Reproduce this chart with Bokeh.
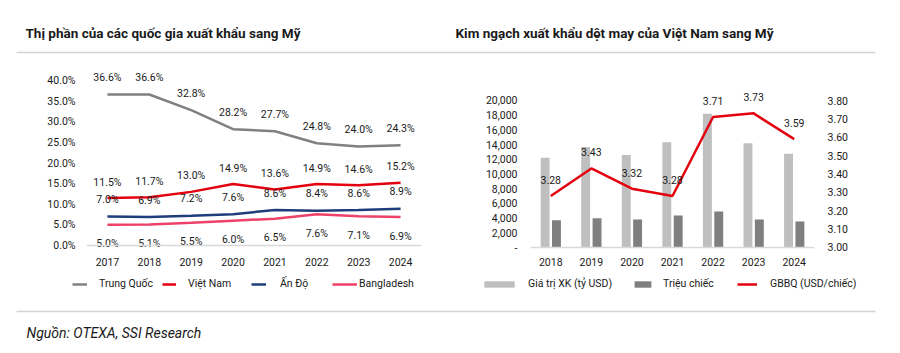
from bokeh.plotting import figure
from bokeh.models import (ColumnDataSource, FactorRange, Range1d, LinearAxis, FixedTicker,
                          PrintfTickFormatter, NumeralTickFormatter, Span, Label,
                          Legend, LegendItem, BoxAnnotation)
from bokeh.layouts import row, column
from bokeh.embed import file_html
from bokeh.resources import INLINE
from bokeh.core.properties import value
from bokeh.transform import dodge

# ---------------- data ----------------
years_share = ["2017", "2018", "2019", "2020", "2021", "2022", "2023", "2024"]
china = [36.6, 36.6, 32.8, 28.2, 27.7, 24.8, 24.0, 24.3]
vietnam = [11.5, 11.7, 13.0, 14.9, 13.6, 14.9, 14.6, 15.2]
india = [7.0, 6.9, 7.2, 7.6, 8.6, 8.4, 8.6, 8.9]
bangladesh = [5.0, 5.1, 5.5, 6.0, 6.5, 7.6, 7.1, 6.9]
share_ticks = [0, 5, 10, 15, 20, 25, 30, 35, 40]

years_vn = ["2018", "2019", "2020", "2021", "2022", "2023", "2024"]
export_value = [12200, 13690, 12600, 14330, 18190, 14190, 12750]
million_pieces = [3720, 3990, 3795, 4369, 4906, 3804, 3551]
avg_price = [3.28, 3.43, 3.32, 3.28, 3.71, 3.73, 3.59]
value_ticks = [0, 2000, 4000, 6000, 8000, 10000, 12000, 14000, 16000, 18000, 20000]
price_ticks = [3.0, 3.1, 3.2, 3.3, 3.4, 3.5, 3.6, 3.7, 3.8]

series_left = ["Trung Quốc", "Việt Nam", "Ấn Độ", "Bangladesh"]
series_right = ["Giá trị XK (tỷ USD)", "Triệu chiếc", "GBBQ (USD/chiếc)"]
title_left = "Thị phần của các quốc gia xuất khẩu sang Mỹ"
title_right = "Kim ngạch xuất khẩu dệt may của Việt Nam sang Mỹ"
source_note = "Nguồn: OTEXA, SSI Research"

FONT = "Roboto"
TXT = "#1a1a1a"
FS = "10.5px"
SEP = "#D4D4D4"
C_CN, C_VN, C_IN, C_BD = "#808080", "#E3000F", "#1F3C7C", "#EE4169"
C_VAL, C_PCS, C_PRC = "#BFBFBF", "#7F7F7F", "#E3000F"


def blank(width, height, flip=False):
    yr = Range1d(height, 0) if flip else Range1d(0, height)
    f = figure(width=width, height=height, x_range=Range1d(0, width), y_range=yr,
               x_axis_type=None, y_axis_type=None, output_backend="svg",
               toolbar_location=None, title=None, min_border=0)
    f.outline_line_color = None
    f.grid.grid_line_color = None
    return f


def style_axis(ax):
    ax.major_tick_line_color = None
    ax.minor_tick_line_color = None
    ax.major_tick_out = 0
    ax.major_tick_in = 0
    ax.axis_line_color = None
    ax.major_label_text_font = FONT
    ax.major_label_text_font_size = FS
    ax.major_label_text_color = TXT


def one_legend(fig, label, renderer, x, y, glyph_w, glyph_h, standoff):
    leg = Legend(items=[LegendItem(label=label, renderers=[renderer])],
                 location=(x, y), orientation="horizontal", glyph_width=glyph_w,
                 glyph_height=glyph_h, label_height=12, label_standoff=standoff,
                 padding=0, margin=0, border_line_color=None, background_fill_alpha=0,
                 label_text_font=FONT, label_text_font_size=FS, label_text_color=TXT)
    fig.add_layout(leg)


# ---------------- header (y measured from the top) ----------------
head = blank(900, 60, flip=True)
head.add_layout(Label(x=25, y=32, text=title_left, text_font=FONT, text_font_size="13.5px",
                      text_font_style="bold", text_color=TXT, text_baseline="middle"))
head.add_layout(Label(x=455, y=32, text=title_right, text_font=FONT, text_font_size="13.5px",
                      text_font_style="bold", text_color=TXT, text_baseline="middle"))
head.segment(x0=16, y0=52, x1=875, y1=52, line_color=SEP, line_width=1.5)

# ---------------- left chart ----------------
src_l = ColumnDataSource(dict(
    year=years_share, china=china, vietnam=vietnam, india=india, bangladesh=bangladesh,
    china_l=[f"{v:.1f}%" for v in china],
    vietnam_l=[f"{v:.1f}%" for v in vietnam],
    india_l=[f"{v:.1f}%" for v in india],
    bangladesh_l=[f"{v:.1f}%" for v in bangladesh],
))

p1 = figure(width=450, height=212, x_range=FactorRange(*years_share),
            y_range=Range1d(-1.94, 44.85), output_backend="svg", toolbar_location=None,
            title=None, min_border_left=86, min_border_right=29, min_border_top=0,
            min_border_bottom=19)
p1.outline_line_color = None
p1.grid.grid_line_color = None
style_axis(p1.xaxis[0])
style_axis(p1.yaxis[0])
p1.xaxis.major_label_standoff = 4
p1.yaxis.major_label_standoff = 11
p1.yaxis.ticker = FixedTicker(ticks=share_ticks)
p1.yaxis.formatter = PrintfTickFormatter(format="%.1f%%")

p1.add_layout(Span(location=0, dimension="width", line_color="#D9D9D9", line_width=1.5))

p1.line("year", "china", source=src_l, line_color=C_CN, line_width=2.5)
p1.line("year", "vietnam", source=src_l, line_color=C_VN, line_width=2.5)
p1.line("year", "india", source=src_l, line_color=C_IN, line_width=2.5)
p1.line("year", "bangladesh", source=src_l, line_color=C_BD, line_width=2.5)

for col, off in (("china", -17), ("vietnam", -16), ("india", -17), ("bangladesh", 19)):
    p1.text("year", col, text=col + "_l", source=src_l, text_font=value(FONT),
            text_font_size=FS, text_color=TXT, text_align="center",
            text_baseline="middle", y_offset=off)

# ---------------- right chart ----------------
src_r = ColumnDataSource(dict(
    year=years_vn, export_value=export_value, million_pieces=million_pieces,
    avg_price=avg_price, price_l=[f"{v:.2f}" for v in avg_price],
))

p2 = figure(width=450, height=212, x_range=FactorRange(*years_vn),
            y_range=Range1d(-816, 25442), output_backend="svg", toolbar_location=None,
            title=None, min_border_left=80, min_border_right=86, min_border_top=0,
            min_border_bottom=19)
p2.extra_y_ranges = {"price": Range1d(2.9673, 4.0177)}
p2.outline_line_color = None
p2.grid.grid_line_color = None

ax_r = LinearAxis(y_range_name="price")
p2.add_layout(ax_r, "right")
for ax in (p2.xaxis[0], p2.yaxis[0], ax_r):
    style_axis(ax)
p2.xaxis.major_label_standoff = 4
p2.yaxis[0].major_label_standoff = 13
ax_r.major_label_standoff = 13
p2.yaxis[0].ticker = FixedTicker(ticks=value_ticks)
p2.yaxis[0].formatter = NumeralTickFormatter(format="0,0")
p2.yaxis[0].major_label_overrides = {0: "-"}
ax_r.ticker = FixedTicker(ticks=price_ticks)
ax_r.formatter = PrintfTickFormatter(format="%.2f")

p2.add_layout(Span(location=0, dimension="width", line_color="#D9D9D9", line_width=1.5))

p2.vbar(x=dodge("year", -0.14, range=p2.x_range), top="export_value", width=0.22,
        source=src_r, fill_color=C_VAL, line_color=None)
p2.vbar(x=dodge("year", 0.14, range=p2.x_range), top="million_pieces", width=0.22,
        source=src_r, fill_color=C_PCS, line_color=None)
p2.line("year", "avg_price", source=src_r, y_range_name="price",
        line_color=C_PRC, line_width=2.5)
p2.text("year", "avg_price", text="price_l", source=src_r, y_range_name="price",
        text_font=value(FONT), text_font_size=FS, text_color=TXT,
        text_align="center", text_baseline="middle", y_offset=-16)

# ---------------- legend strips (proxy glyphs share the series styles) ----------------
nan = float("nan")


def proxy():
    return ColumnDataSource(dict(x=[nan], y=[nan]))


lg1 = blank(450, 28)
k1 = [lg1.line("x", "y", source=proxy(), line_color=c, line_width=2.5)
      for c in (C_CN, C_VN, C_IN, C_BD)]
# (glyph x, glyph width, label standoff)
slots_left = [(72, 15, 12), (162, 14, 12), (251, 15, 14), (332, 25, 2)]
for s, r, (gx, gw, so) in zip(series_left, k1, slots_left):
    one_legend(lg1, s, r, gx, 10, gw, 12, so)

lg2 = blank(450, 28)
k2 = [lg2.vbar(x="x", top="y", width=1, source=proxy(), fill_color=C_VAL, line_color=None),
      lg2.vbar(x="x", top="y", width=1, source=proxy(), fill_color=C_PCS, line_color=None),
      lg2.line("x", "y", source=proxy(), line_color=C_PRC, line_width=2.5)]
slots_right = [(30, 38, 10), (182, 21, 10), (287, 20, 13)]
glyph_heights = [8, 8, 12]
for s, r, (gx, gw, so), gh in zip(series_right, k2, slots_right, glyph_heights):
    one_legend(lg2, s, r, gx, 10, gw, gh, so)

# ---------------- footer ----------------
foot = blank(900, 53)
foot.add_layout(BoxAnnotation(left=16, right=875, bottom=41.25, top=42.75,
                              fill_color=SEP, fill_alpha=1, line_color=None))
foot.add_layout(Label(x=26, y=21, text=source_note, text_font=FONT, text_font_size="14px",
                      text_font_style="italic", text_color=TXT, text_baseline="middle"))

layout = column(head, row(p1, p2, spacing=0), row(lg1, lg2, spacing=0), foot, spacing=0)
open("out.html", "w").write(file_html(layout, INLINE))
